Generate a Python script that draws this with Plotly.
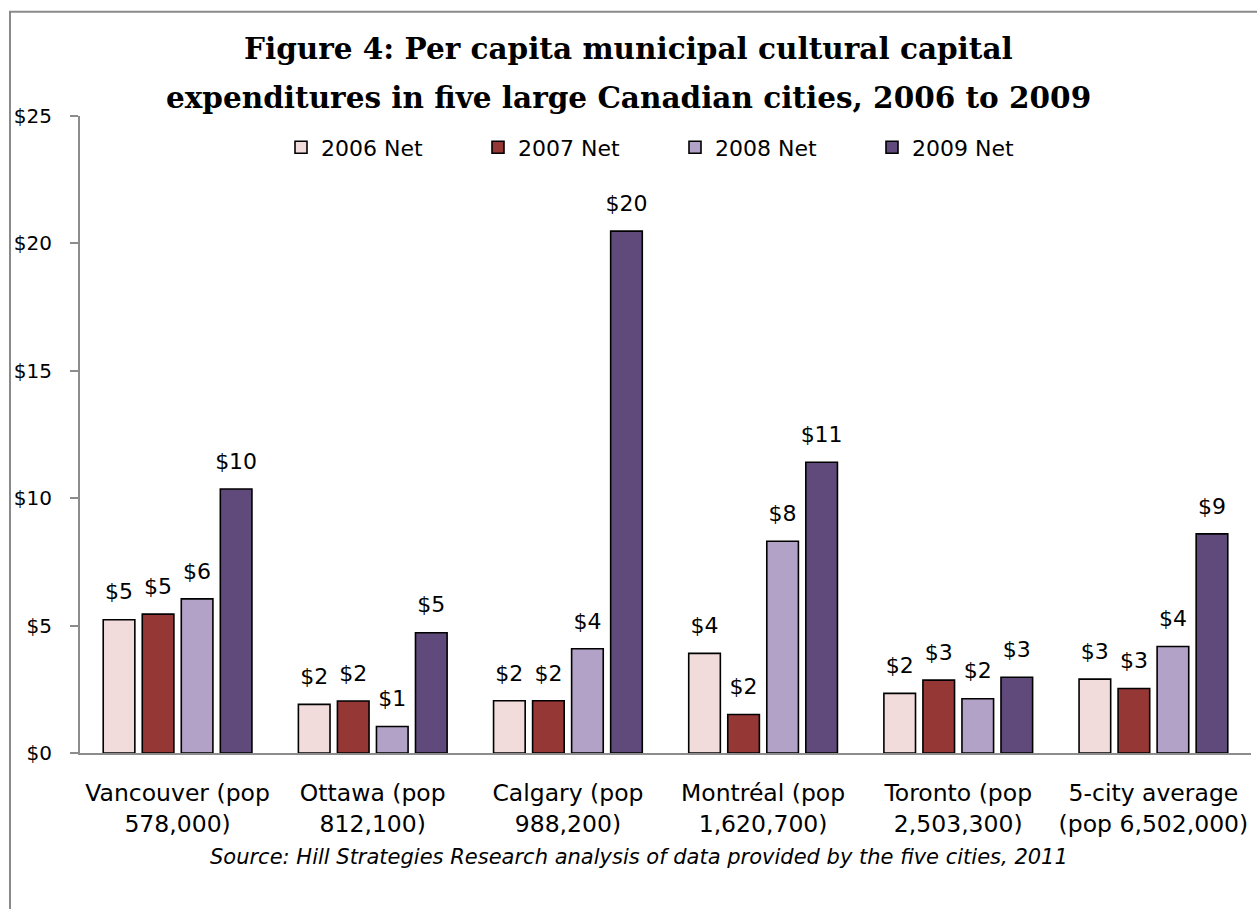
import plotly.graph_objects as go

categories = [
    "Vancouver (pop<br>578,000)",
    "Ottawa (pop<br>812,100)",
    "Calgary (pop<br>988,200)",
    "Montréal (pop<br>1,620,700)",
    "Toronto (pop<br>2,503,300)",
    "5-city average<br>(pop 6,502,000)",
]
net_2006 = [5.23, 1.91, 2.05, 3.91, 2.34, 2.90]
net_2007 = [5.45, 2.04, 2.05, 1.51, 2.86, 2.53]
net_2008 = [6.05, 1.04, 4.09, 8.31, 2.13, 4.18]
net_2009 = [10.36, 4.72, 20.48, 11.41, 2.97, 8.60]
series_names = ["2006 Net", "2007 Net", "2008 Net", "2009 Net"]
series_colors = ["#F2DCDB", "#953735", "#B3A2C7", "#604A7B"]
y_ticks = [0, 5, 10, 15, 20, 25]
y_tick_labels = ["$0", "$5", "$10", "$15", "$20", "$25"]

title_line1 = "Figure 4: Per capita municipal cultural capital"
title_line2 = "expenditures in five large Canadian cities, 2006 to 2009"
source_note = "Source: Hill Strategies Research analysis of data provided by the five cities, 2011"

SANS = "'DejaVu Sans', sans-serif"
SERIF = "'DejaVu Serif', serif"

W, H = 1257, 909
ML, MR, MT, MB = 80, 6, 115.5, 155.7
plot_h = H - MT - MB
plot_w = W - ML - MR
BARGAP = 0.2


def py(px):
    """Convert a pixel row (from top) to paper y."""
    return (H - MB - px) / plot_h


def pxx(px):
    """Convert a pixel column to paper x."""
    return (px - ML) / plot_w


fig = go.Figure()
all_series = [net_2006, net_2007, net_2008, net_2009]
for name, color, vals in zip(series_names, series_colors, all_series):
    fig.add_trace(go.Bar(
        name=name,
        x=categories,
        y=vals,
        offsetgroup=name,
        marker=dict(color=color, line=dict(color="#000000", width=1.6)),
        hoverinfo="x+y+name",
    ))

# value labels, grouped the same way as the bars so each sits over its bar
for name, vals in zip(series_names, all_series):
    fig.add_trace(go.Scatter(
        x=categories,
        y=vals,
        offsetgroup=name,
        mode="markers+text",
        marker=dict(size=22, opacity=0),
        text=[f"${v:.0f}" for v in vals],
        textposition="top center",
        textfont=dict(family=SANS, size=22, color="#000000"),
        cliponaxis=False,
        showlegend=False,
        hoverinfo="skip",
    ))

fig.update_layout(
    width=W,
    height=H,
    margin=dict(l=ML, r=MR, t=MT, b=MB, pad=0),
    paper_bgcolor="#FFFFFF",
    plot_bgcolor="#FFFFFF",
    barmode="group",
    bargap=BARGAP,
    bargroupgap=0.19,
    scattermode="group",
    scattergap=BARGAP,
    font=dict(family=SANS, size=20, color="#000000"),
    showlegend=True,
    legend=dict(
        orientation="h",
        x=pxx(281), xanchor="left",
        y=py(147), yanchor="middle",
        entrywidth=152, entrywidthmode="pixels",
        itemwidth=30,
        font=dict(family=SANS, size=22, color="#000000"),
        bgcolor="rgba(0,0,0,0)",
        traceorder="normal",
    ),
    xaxis=dict(
        type="category",
        showline=True,
        linecolor="#8C8C8C",
        linewidth=2,
        ticks="",
        showgrid=False,
        tickfont=dict(family=SANS, size=23.5, color="#000000"),
        ticklabelstandoff=18,
    ),
    yaxis=dict(
        range=[0, 25],
        tickvals=y_ticks,
        ticktext=y_tick_labels,
        showline=True,
        linecolor="#8C8C8C",
        linewidth=2,
        ticks="outside",
        ticklen=8,
        tickwidth=2,
        tickcolor="#8C8C8C",
        showgrid=False,
        zeroline=False,
        tickfont=dict(family=SANS, size=20, color="#000000"),
        ticklabelstandoff=14,
    ),
    annotations=[
        dict(text="<b>" + title_line1 + "</b>", xref="paper", yref="paper",
             x=pxx(628), y=py(48), xanchor="center", yanchor="middle",
             showarrow=False, font=dict(family=SERIF, size=29.5, color="#000000")),
        dict(text="<b>" + title_line2 + "</b>", xref="paper", yref="paper",
             x=pxx(628), y=py(97), xanchor="center", yanchor="middle",
             showarrow=False, font=dict(family=SERIF, size=29.5, color="#000000")),
        dict(text="<i>" + source_note + "</i>", xref="paper", yref="paper",
             x=pxx(639), y=py(857), xanchor="center", yanchor="middle",
             showarrow=False, font=dict(family=SANS, size=21, color="#000000")),
    ],
    shapes=[
        dict(type="rect", xref="paper", yref="paper",
             x0=pxx(10), x1=pxx(1270), y0=py(930), y1=py(11),
             line=dict(color="#8A8A8A", width=2), fillcolor="rgba(0,0,0,0)",
             layer="below"),
    ],
)

fig.write_html("out.html")
